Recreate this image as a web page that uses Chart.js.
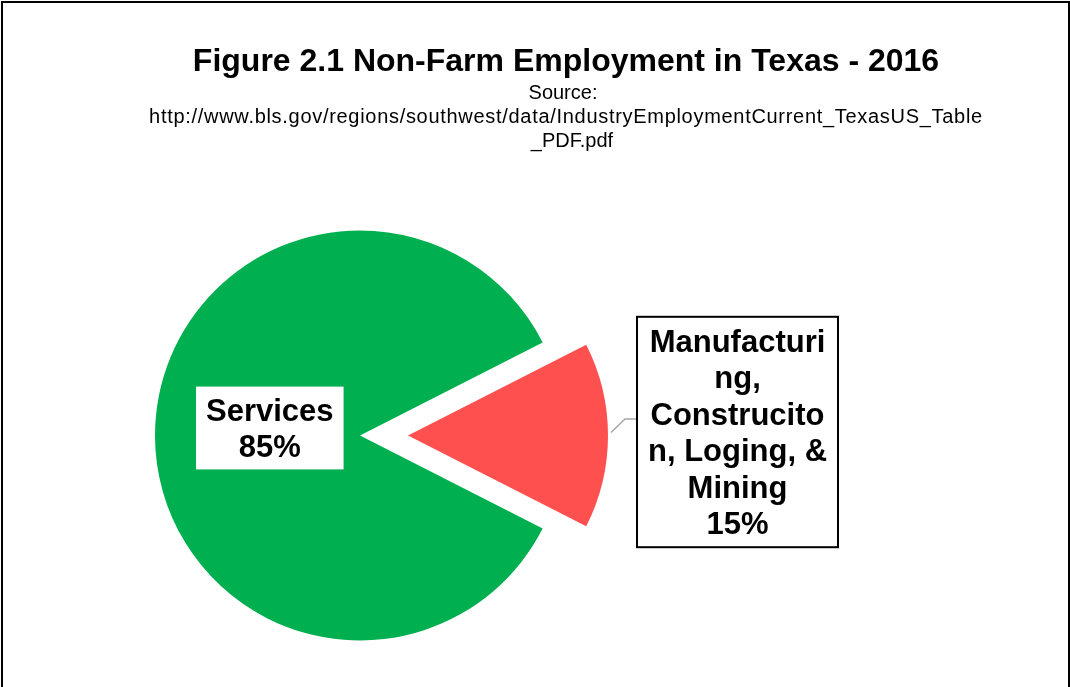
<!DOCTYPE html>
<html>
<head>
<meta charset="utf-8">
<script src="https://cdn.jsdelivr.net/npm/chart.js@4/dist/chart.umd.min.js"></script>
<style>
  html, body { margin: 0; padding: 0; background: #fff; overflow: hidden; }
  #wrap { position: absolute; left: 0; top: 0; width: 1070px; height: 687px; overflow: hidden; }
  #c { position: absolute; left: 0; top: 0; }
  #frame { position: absolute; left: 1px; top: 1px; width: 1069px; height: 740px; border: 2px solid #000; box-sizing: border-box; pointer-events: none; }
</style>
</head>
<body>
<div id="wrap">
  <canvas id="c" width="1070" height="687"></canvas>
  <div id="frame"></div>
</div>
<script>
// ---- data ----
const categories = ['Manufacturing, Construcito n, Loging, & Mining', 'Services'];
const shares = [15, 85];
const labelLines = [
  ['Manufacturi', 'ng,', 'Construcito', 'n, Loging, &', 'Mining'],
  ['Services']
];
const sliceColors = ['#FF5050', '#00B050'];
const titleText = 'Figure 2.1 Non-Farm Employment in Texas - 2016';
const sourceLines = [
  'Source:',
  'http://www.bls.gov/regions/southwest/data/IndustryEmploymentCurrent_TexasUS_Table',
  '_PDF.pdf'
];

const FONT = '"Liberation Sans", Arial, sans-serif';

// explode slices (moves the library's arc elements outward along their mid-angle)
const explodePlugin = {
  id: 'explode',
  afterDatasetsUpdate(chart, args, opts) {
    const meta = chart.getDatasetMeta(0);
    meta.data.forEach((arc, i) => {
      const d = (opts.distance || [])[i] || 0;
      if (!d) return;
      const mid = (arc.startAngle + arc.endAngle) / 2;
      arc.x += Math.cos(mid) * d;
      arc.y += Math.sin(mid) * d;
      arc.outerRadius *= (opts.radiusScale || [])[i] || 1;
    });
  }
};

// title and source text
const headerPlugin = {
  id: 'header',
  afterDraw(chart, args, opts) {
    const ctx = chart.ctx;
    ctx.save();
    ctx.fillStyle = '#000';
    ctx.textAlign = 'center';
    ctx.textBaseline = 'alphabetic';
    ctx.font = 'bold ' + opts.titleSize + 'px ' + FONT;
    ctx.fillText(titleText, opts.cx, opts.titleY);
    ctx.font = opts.sourceSize + 'px ' + FONT;
    sourceLines.forEach((s, i) => {
      if ('letterSpacing' in ctx) ctx.letterSpacing = (opts.sourceSpacing[i] || 0) + 'px';
      ctx.fillText(s, opts.cx + (opts.sourceDx[i] || 0), opts.sourceY + i * opts.sourceLH);
    });
    ctx.restore();
  }
};

// data labels in boxes
const boxLabelPlugin = {
  id: 'boxLabels',
  afterDatasetsDraw(chart, args, opts) {
    const ctx = chart.ctx;
    const meta = chart.getDatasetMeta(0);
    const total = shares.reduce((a, b) => a + b, 0);
    ctx.save();
    ctx.font = 'bold ' + opts.fontSize + 'px ' + FONT;
    meta.data.forEach((arc, i) => {
      const cfg = opts.items[i];
      const lines = labelLines[i].concat([Math.round(shares[i] / total * 100) + '%']);
      const mid = (arc.startAngle + arc.endAngle) / 2;
      const w = cfg.width || (Math.max(...lines.map(l => ctx.measureText(l).width)) + 2 * cfg.padX);
      const h = lines.length * opts.lineHeight + cfg.padY;
      let bx, by;
      if (cfg.outside) {
        const ox = arc.x + Math.cos(mid) * arc.outerRadius;
        const oy = arc.y + Math.sin(mid) * arc.outerRadius;
        bx = ox + cfg.gap;
        by = oy + cfg.dy - h / 2;
        // leader line
        const ly = oy + cfg.leaderDy;
        ctx.beginPath();
        ctx.strokeStyle = '#A6A6A6';
        ctx.lineWidth = 1.5;
        ctx.moveTo(ox + 3, oy - 3);
        ctx.lineTo(bx - 12, ly);
        ctx.lineTo(bx, ly);
        ctx.stroke();
      } else {
        const cx = arc.x + Math.cos(mid) * arc.outerRadius * cfg.radial;
        const cy = arc.y + Math.sin(mid) * arc.outerRadius * cfg.radial;
        bx = cx - w / 2;
        by = cy + cfg.dy - h / 2;
      }
      ctx.fillStyle = '#fff';
      ctx.fillRect(bx, by, w, h);
      if (cfg.border) {
        ctx.strokeStyle = '#000';
        ctx.lineWidth = 2;
        ctx.strokeRect(bx, by, w, h);
      }
      ctx.fillStyle = '#000';
      ctx.textAlign = 'center';
      ctx.textBaseline = 'alphabetic';
      const cyBox = by + h / 2;
      const first = cyBox - (lines.length - 1) * opts.lineHeight / 2 + opts.baselineShift;
      lines.forEach((l, j) => ctx.fillText(l, bx + w / 2, first + j * opts.lineHeight));
    });
    ctx.restore();
  }
};

new Chart(document.getElementById('c'), {
  type: 'pie',
  data: {
    labels: categories,
    datasets: [{
      data: shares,
      backgroundColor: sliceColors,
      borderWidth: 0,
      hoverOffset: 0
    }]
  },
  options: {
    responsive: false,
    animation: false,
    events: [],
    rotation: 90 - (shares[0] / shares.reduce((a, b) => a + b, 0)) * 180,
    radius: 205,
    layout: { padding: { left: 155, top: 230, right: 505, bottom: 46 } },
    plugins: {
      legend: { display: false },
      tooltip: { enabled: false },
      title: { display: false },
      explode: { distance: [48, 0], radiusScale: [200 / 205, 1] },
      header: {
        cx: 566, titleY: 71, titleSize: 32,
        sourceSize: 20, sourceSpacing: [0, 0.7, 0], sourceDx: [-3, 0, 6],
        sourceY: 99, sourceLH: 24
      },
      boxLabels: {
        fontSize: 31,
        lineHeight: 36.4,
        baselineShift: 11,
        items: [
          { outside: true, border: true, width: 201, padY: 12, gap: 29, dy: -3.5, leaderDy: -16.5 },
          { outside: false, radial: 0.44, padX: 10, padY: 10, dy: -7.5 }
        ]
      }
    }
  },
  plugins: [explodePlugin, headerPlugin, boxLabelPlugin]
});
</script>
</body>
</html>
